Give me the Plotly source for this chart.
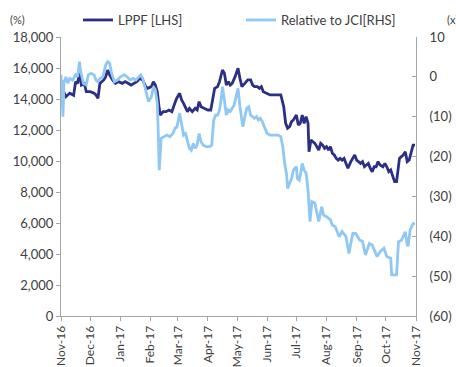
import plotly.graph_objects as go

# ---- Data ----
lppf_dates = [
    "2016-11-01","2016-11-03","2016-11-06","2016-11-10","2016-11-14","2016-11-16","2016-11-18","2016-11-20",
    "2016-11-22","2016-11-25","2016-11-27","2016-12-01","2016-12-05","2016-12-07","2016-12-09","2016-12-11",
    "2016-12-15","2016-12-17","2016-12-19","2016-12-21","2016-12-24","2016-12-27","2016-12-30","2017-01-03",
    "2017-01-06","2017-01-09","2017-01-12","2017-01-15","2017-01-18","2017-01-21","2017-01-24","2017-01-27",
    "2017-01-29","2017-02-02","2017-02-04","2017-02-06","2017-02-08","2017-02-10","2017-02-11","2017-02-14",
    "2017-02-17","2017-02-20","2017-02-23","2017-02-26","2017-02-28","2017-03-03","2017-03-05","2017-03-07",
    "2017-03-11","2017-03-13","2017-03-16","2017-03-19","2017-03-21","2017-03-23","2017-03-25","2017-03-28",
    "2017-04-01","2017-04-04","2017-04-06","2017-04-08","2017-04-11","2017-04-13","2017-04-16","2017-04-18",
    "2017-04-20","2017-04-22","2017-04-24","2017-04-26","2017-04-29","2017-05-02","2017-05-04","2017-05-06",
    "2017-05-09","2017-05-12","2017-05-15","2017-05-17","2017-05-19","2017-05-22","2017-05-24","2017-05-26",
    "2017-05-28","2017-06-01","2017-06-04","2017-06-07","2017-06-12","2017-06-15","2017-06-18","2017-06-20",
    "2017-06-22","2017-06-24","2017-06-26","2017-06-28","2017-07-01","2017-07-03","2017-07-05","2017-07-07",
    "2017-07-09","2017-07-11","2017-07-13","2017-07-14","2017-07-16","2017-07-18","2017-07-20","2017-07-23",
    "2017-07-24","2017-07-26","2017-07-28","2017-07-30","2017-08-01","2017-08-03","2017-08-05","2017-08-07",
    "2017-08-09","2017-08-11","2017-08-13","2017-08-15","2017-08-17","2017-08-19","2017-08-21","2017-08-23",
    "2017-08-26","2017-08-28","2017-08-30","2017-09-01","2017-09-03","2017-09-05","2017-09-07","2017-09-09",
    "2017-09-11","2017-09-13","2017-09-15","2017-09-17","2017-09-19","2017-09-21","2017-09-23","2017-09-25",
    "2017-09-28","2017-09-30","2017-10-02","2017-10-04","2017-10-06","2017-10-08","2017-10-10","2017-10-12",
    "2017-10-14","2017-10-15","2017-10-17","2017-10-19","2017-10-21","2017-10-23","2017-10-25","2017-10-27",
    "2017-10-29","2017-10-31",
]
lppf_values = [
    15200,14600,14150,14370,14240,15120,15000,15660,
    14900,15000,14470,14470,14370,14260,14050,15010,
    15230,15440,15870,15550,15230,15010,15120,15010,
    15120,15010,14900,15010,15120,15330,15230,14800,
    14690,14800,15120,14900,14470,13400,12970,13180,
    13180,13290,13180,13720,14050,14370,13940,13720,
    13180,13400,13180,13400,13290,13830,13500,13400,
    13290,13290,13940,14690,14800,15120,15870,15660,
    14900,15120,14900,15010,15440,15980,15330,14800,
    15010,15230,15230,14900,14800,14800,14690,14800,
    14470,14370,14260,14260,14260,14260,13500,12430,
    12110,12210,12540,12650,12970,12320,12430,12970,
    12430,12860,12430,10600,11350,11250,11140,10820,
    10710,11140,11030,10820,10930,10710,10930,10500,
    10390,10170,10060,10170,10060,10170,9850,9530,
    9960,10170,10390,10060,9960,9850,9960,9630,
    9740,9850,9530,9310,9630,9630,9960,9740,
    9630,9850,9630,9310,9420,9100,8670,8670,
    9740,10170,10280,10390,10600,9960,10060,10500,
    11030,11030,
]

rel_dates = [
    "2016-11-01","2016-11-03","2016-11-04","2016-11-06","2016-11-08","2016-11-10","2016-11-13","2016-11-16",
    "2016-11-18","2016-11-20","2016-11-21","2016-11-24","2016-11-27","2016-11-29","2016-12-02","2016-12-05",
    "2016-12-07","2016-12-09","2016-12-11","2016-12-14","2016-12-17","2016-12-19","2016-12-21","2016-12-23",
    "2016-12-26","2016-12-29","2017-01-01","2017-01-05","2017-01-08","2017-01-11","2017-01-14","2017-01-17",
    "2017-01-20","2017-01-22","2017-01-24","2017-01-26","2017-01-28","2017-01-30","2017-02-02","2017-02-04",
    "2017-02-06","2017-02-08","2017-02-09","2017-02-10","2017-02-12","2017-02-15","2017-02-18","2017-02-21",
    "2017-02-24","2017-02-27","2017-02-28","2017-03-03","2017-03-05","2017-03-07","2017-03-09","2017-03-11",
    "2017-03-13","2017-03-15","2017-03-17","2017-03-19","2017-03-21","2017-03-23","2017-03-25","2017-03-27",
    "2017-03-30","2017-04-03","2017-04-05","2017-04-07","2017-04-09","2017-04-11","2017-04-13","2017-04-15",
    "2017-04-16","2017-04-18","2017-04-20","2017-04-22","2017-04-24","2017-04-26","2017-04-28","2017-04-30",
    "2017-05-02","2017-05-04","2017-05-06","2017-05-07","2017-05-09","2017-05-11","2017-05-13","2017-05-15",
    "2017-05-17","2017-05-19","2017-05-21","2017-05-23","2017-05-25","2017-05-27","2017-05-29","2017-06-01",
    "2017-06-04","2017-06-08","2017-06-12","2017-06-15","2017-06-17","2017-06-19","2017-06-21","2017-06-22",
    "2017-06-24","2017-06-26","2017-06-28","2017-07-01","2017-07-02","2017-07-04","2017-07-06","2017-07-07",
    "2017-07-09","2017-07-11","2017-07-13","2017-07-15","2017-07-17","2017-07-20","2017-07-24","2017-07-27",
    "2017-07-29","2017-08-01","2017-08-05","2017-08-07","2017-08-10","2017-08-14","2017-08-17","2017-08-21",
    "2017-08-24","2017-08-28","2017-08-31","2017-09-04","2017-09-07","2017-09-10","2017-09-14","2017-09-17",
    "2017-09-22","2017-09-25","2017-09-29","2017-10-02","2017-10-06","2017-10-07","2017-10-12","2017-10-14",
    "2017-10-17","2017-10-21","2017-10-23","2017-10-24","2017-10-26","2017-10-29","2017-10-31",
]
rel_values = [
    0.5,-10.0,-1.5,0.0,-1.6,-0.4,-0.8,0.5,
    0.0,3.8,1.7,-1.6,-2.0,0.5,0.9,0.5,
    -0.8,-1.2,-0.4,0.0,3.0,3.8,3.4,0.9,
    -1.2,-0.8,0.0,0.5,0.0,-0.8,-0.4,-0.8,
    0.0,0.5,-0.4,-2.5,-4.1,-6.2,-5.0,-2.5,
    -3.3,-6.6,-14.0,-23.4,-15.4,-15.0,-14.6,-15.0,
    -14.2,-12.5,-12.9,-9.1,-12.5,-14.6,-14.2,-15.8,
    -17.9,-18.4,-16.7,-17.9,-17.1,-14.2,-16.3,-17.1,
    -17.5,-17.5,-17.1,-10.8,-9.6,-9.6,-8.3,-5.0,
    -2.5,-5.8,-9.6,-8.3,-8.7,-7.9,-7.1,-5.0,
    -2.9,-7.5,-11.7,-12.5,-10.0,-7.9,-7.5,-9.6,
    -10.0,-10.4,-10.0,-10.8,-10.4,-11.2,-12.5,-14.2,
    -14.6,-14.6,-14.6,-15.0,-17.5,-21.7,-24.6,-28.0,
    -26.7,-25.5,-23.4,-22.5,-25.5,-25.9,-23.4,-21.7,
    -23.4,-24.2,-28.4,-36.3,-31.3,-31.7,-36.3,-32.6,
    -34.7,-35.1,-35.9,-37.2,-37.6,-40.1,-38.8,-40.1,
    -44.3,-39.3,-39.3,-40.9,-41.3,-44.7,-41.8,-42.2,
    -45.1,-43.9,-43.0,-45.1,-45.5,-49.7,-49.7,-41.4,
    -41.0,-38.9,-42.2,-42.2,-38.4,-36.8,-36.8,
]

left_ticks = [0, 2000, 4000, 6000, 8000, 10000, 12000, 14000, 16000, 18000]
right_ticks = [-60, -50, -40, -30, -20, -10, 0, 10]
right_labels = ["(60)", "(50)", "(40)", "(30)", "(20)", "(10)", "0", "10"]
month_ticks = ["2016-11-01","2016-12-01","2017-01-01","2017-02-01","2017-03-01","2017-04-01",
               "2017-05-01","2017-06-01","2017-07-01","2017-08-01","2017-09-01","2017-10-01","2017-11-01"]

DARK = "#2B2F86"
LIGHT = "#8FC8F4"
AXIS = "#A6A6A6"
TXT = "#404040"
FONT = "Lato"

fig = go.Figure()
fig.add_trace(go.Scatter(x=lppf_dates, y=lppf_values, mode="lines", name="LPPF [LHS]",
                         line=dict(color=DARK, width=2.8), yaxis="y", legend="legend"))
fig.add_trace(go.Scatter(x=rel_dates, y=rel_values, mode="lines", name="Relative to JCI[RHS]",
                         line=dict(color=LIGHT, width=2.8), yaxis="y2", legend="legend2"))

legend_common = dict(orientation="h", xanchor="left", xref="container",
                     y=1 - 20 / 367, yanchor="middle", yref="container",
                     font=dict(size=13, color=TXT), bgcolor="rgba(0,0,0,0)", itemwidth=30)

fig.update_layout(
    width=456, height=367,
    margin=dict(l=61, r=40, t=37, b=51, autoexpand=False),
    paper_bgcolor="white", plot_bgcolor="white",
    font=dict(family=FONT, size=12, color=TXT),
    showlegend=True,
    legend=dict(x=78 / 456, **legend_common),
    legend2=dict(x=241 / 456, **legend_common),
    xaxis=dict(type="date", range=["2016-11-01", "2017-11-01"], tickvals=month_ticks,
               tickformat="%b-%y", tickangle=-90, ticks="outside", ticklen=4,
               tickcolor=AXIS, showline=True, linecolor=AXIS, linewidth=1, automargin=False,
               showgrid=False, zeroline=False, tickfont=dict(size=12, color=TXT)),
    yaxis=dict(range=[0, 18000], tickvals=left_ticks, tickformat=",", ticks="outside",
               ticklen=4, tickcolor=AXIS, showline=True, linecolor=AXIS, linewidth=1,
               automargin=False,
               showgrid=False, zeroline=False, tickfont=dict(size=13, color=TXT)),
    yaxis2=dict(range=[-60, 10], tickvals=right_ticks, ticktext=right_labels, overlaying="y",
                side="right", ticks="inside", ticklen=4, tickcolor=AXIS, showline=True,
                linecolor=AXIS, linewidth=1, showgrid=False, zeroline=False, automargin=False,
                ticklabelstandoff=10, tickfont=dict(size=13, color=TXT)),
)

fig.add_annotation(text="(%)", x=-44 / 355, y=1.0, xref="paper", yref="paper", xanchor="center",
                   yanchor="middle", yshift=18, showarrow=False, font=dict(size=11, color=TXT))
fig.add_annotation(text="(x)", x=1 + 29 / 355, y=1.0, xref="paper", yref="paper", xanchor="left",
                   yanchor="middle", yshift=18, showarrow=False, font=dict(size=11, color=TXT))

fig.write_html("out.html")
